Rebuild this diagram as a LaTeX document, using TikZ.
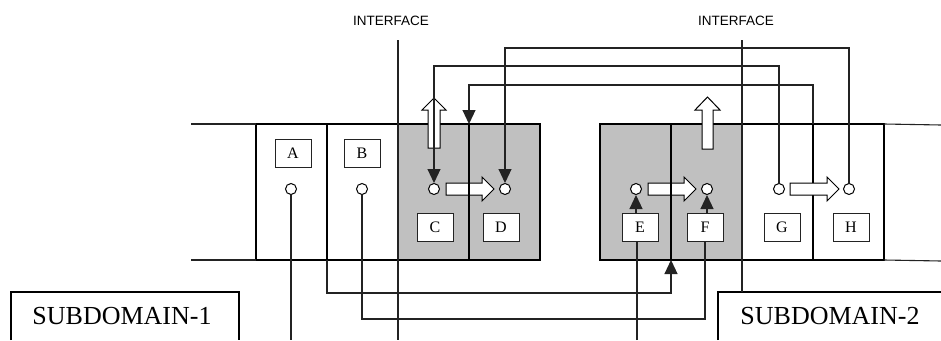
\documentclass[tikz,border=0pt]{standalone}
\usepackage{fontspec}
\setmainfont{Liberation Serif}
\newfontfamily\ifsans{Liberation Sans}
\usetikzlibrary{arrows.meta}
\definecolor{cellgray}{RGB}{192,192,192}
\definecolor{linegray}{RGB}{35,35,35}
\tikzset{
  cellbox/.style={draw=black, line width=1.1pt, outer sep=0pt, minimum width=71pt, minimum height=136pt, inner sep=0pt, anchor=north west},
  shaded/.style={fill=cellgray},
  lbl/.style={draw=linegray, fill=white, line width=1pt, minimum width=36pt, minimum height=28pt, inner sep=0pt, font=\fontsize{16}{16}\selectfont},
  port/.style={circle, draw=black, fill=white, line width=1pt, minimum size=11pt, inner sep=0pt},
  conn/.style={draw=linegray, line width=1.1pt},
  headtip/.style={-{Triangle[length=14pt,width=13pt]}},
  boundary/.style={draw=black, line width=2pt},
  hollow/.style={draw=black, fill=white, line width=1pt},
  sub/.style={font=\fontsize{26}{26}\selectfont},
  iface/.style={font=\ifsans\fontsize{13.5}{14}\selectfont}
}
\begin{document}
\begin{tikzpicture}[x=1pt,y=-1pt]
\useasboundingbox (0,0) rectangle (941,340);
% cells
\node[cellbox] (cellA) at (256,124) {};
\node[cellbox] (cellB) at (327,124) {};
\node[cellbox,shaded] (cellC) at (398,124) {};
\node[cellbox,shaded] (cellD) at (469,124) {};
\node[cellbox,shaded] (cellE) at (600,124) {};
\node[cellbox,shaded] (cellF) at (671,124) {};
\node[cellbox] (cellG) at (742,124) {};
\node[cellbox] (cellH) at (813,124) {};
% band lines
\coordinate (bl1) at (191,124);
\coordinate (bl2) at (191,260);
\coordinate (br1) at (941,125);
\coordinate (br2) at (941,261);
\draw[conn] (bl1) -- (cellA.north west);
\draw[conn] (bl2) -- (cellA.south west);
\draw[conn] (cellH.north east) -- (br1);
\draw[conn] (cellH.south east) -- (br2);
% hollow arrows
\path[hollow] (428,148) -- (428,110) -- (422,110) -- (434,98) -- (446,110) -- (440,110) -- (440,148) -- cycle;
\path[hollow] (702,149) -- (702,110) -- (695,110) -- (707.5,97) -- (720,110) -- (713,110) -- (713,149) -- cycle;
\path[hollow] (446,183) -- (482,183) -- (482,177) -- (494,189) -- (482,201) -- (482,195) -- (446,195) -- cycle;
\path[hollow] (648,183) -- (684,183) -- (684,177) -- (696,189) -- (684,201) -- (684,195) -- (648,195) -- cycle;
\path[hollow] (790,183) -- (827,183) -- (827,177) -- (839,189) -- (827,201) -- (827,195) -- (790,195) -- cycle;
% thick boundaries
\draw[boundary] (cellC.north east) -- (cellC.south east);
\draw[boundary] (cellE.north east) -- (cellE.south east);
% label boxes
\node[lbl] (bA) at (293,153) {A};
\node[lbl] (bB) at (362,153) {B};
\node[lbl] (bC) at (435,227) {C};
\node[lbl] (bD) at (501,227) {D};
\node[lbl] (bE) at (640,227) {E};
\node[lbl] (bF) at (705,227) {F};
\node[lbl] (bG) at (782,227) {G};
\node[lbl] (bH) at (851,227) {H};
% ports
\node[port] (pA) at (291,189) {};
\node[port] (pB) at (362,189) {};
\node[port] (pC) at (434,189) {};
\node[port] (pD) at (505,189) {};
\node[port] (pE) at (636,189) {};
\node[port] (pF) at (707,189) {};
\node[port] (pG) at (779,189) {};
\node[port] (pH) at (849,189) {};
% interface
\node[iface] (if1) at (391,21) {INTERFACE};
\node[iface] (if2) at (736,21) {INTERFACE};
\coordinate (i1t) at (398,40);
\coordinate (i1b) at (398,340);
\coordinate (i2t) at (742,40);
\draw[conn] (i1t) -- (i1b);
% subdomain boxes
\draw[draw=black, line width=1.2pt] (11,340) -- (11,292) -- (239,292) -- (239,340);
\node[sub] (s1) at (122,316) {SUBDOMAIN-1};
\draw[draw=black, line width=1.2pt] (718,340) -- (718,292) -- (945,292);
\node[sub] (s2) at (830,316) {SUBDOMAIN-2};
\coordinate (s2top) at (742,292);
\draw[conn] (i2t) -- (s2top);
% top connectors
\coordinate (t1) at (0,48);
\coordinate (t2) at (0,66);
\coordinate (t3) at (0,85);
\draw[conn,headtip] (pH.north) -- (pH.north |- t1) -| (pD.north);
\draw[conn,headtip] (pG.north) -- (pG.north |- t2) -| (pC.north);
\draw[conn,headtip] (cellG.north east) -- (cellG.north east |- t3) -| (cellC.north east);
% bottom connectors
\coordinate (u1) at (0,293);
\coordinate (u2) at (0,319);
\coordinate (aend) at (291,340);
\coordinate (eend) at (637,340);
\draw[conn] (pA.south) -- (aend);
\draw[conn] (eend) -- (eend |- bE.south);
\draw[conn,headtip] (cellA.south east) -- (cellA.south east |- u1) -| (cellE.south east);
\draw[conn] (pB.south) -- (pB.south |- u2) -| (bF.south);
\draw[conn,headtip] (bE.north -| pE) -- (pE.south);
\draw[conn,headtip] (bF.north -| pF) -- (pF.south);
\end{tikzpicture}
\end{document}
